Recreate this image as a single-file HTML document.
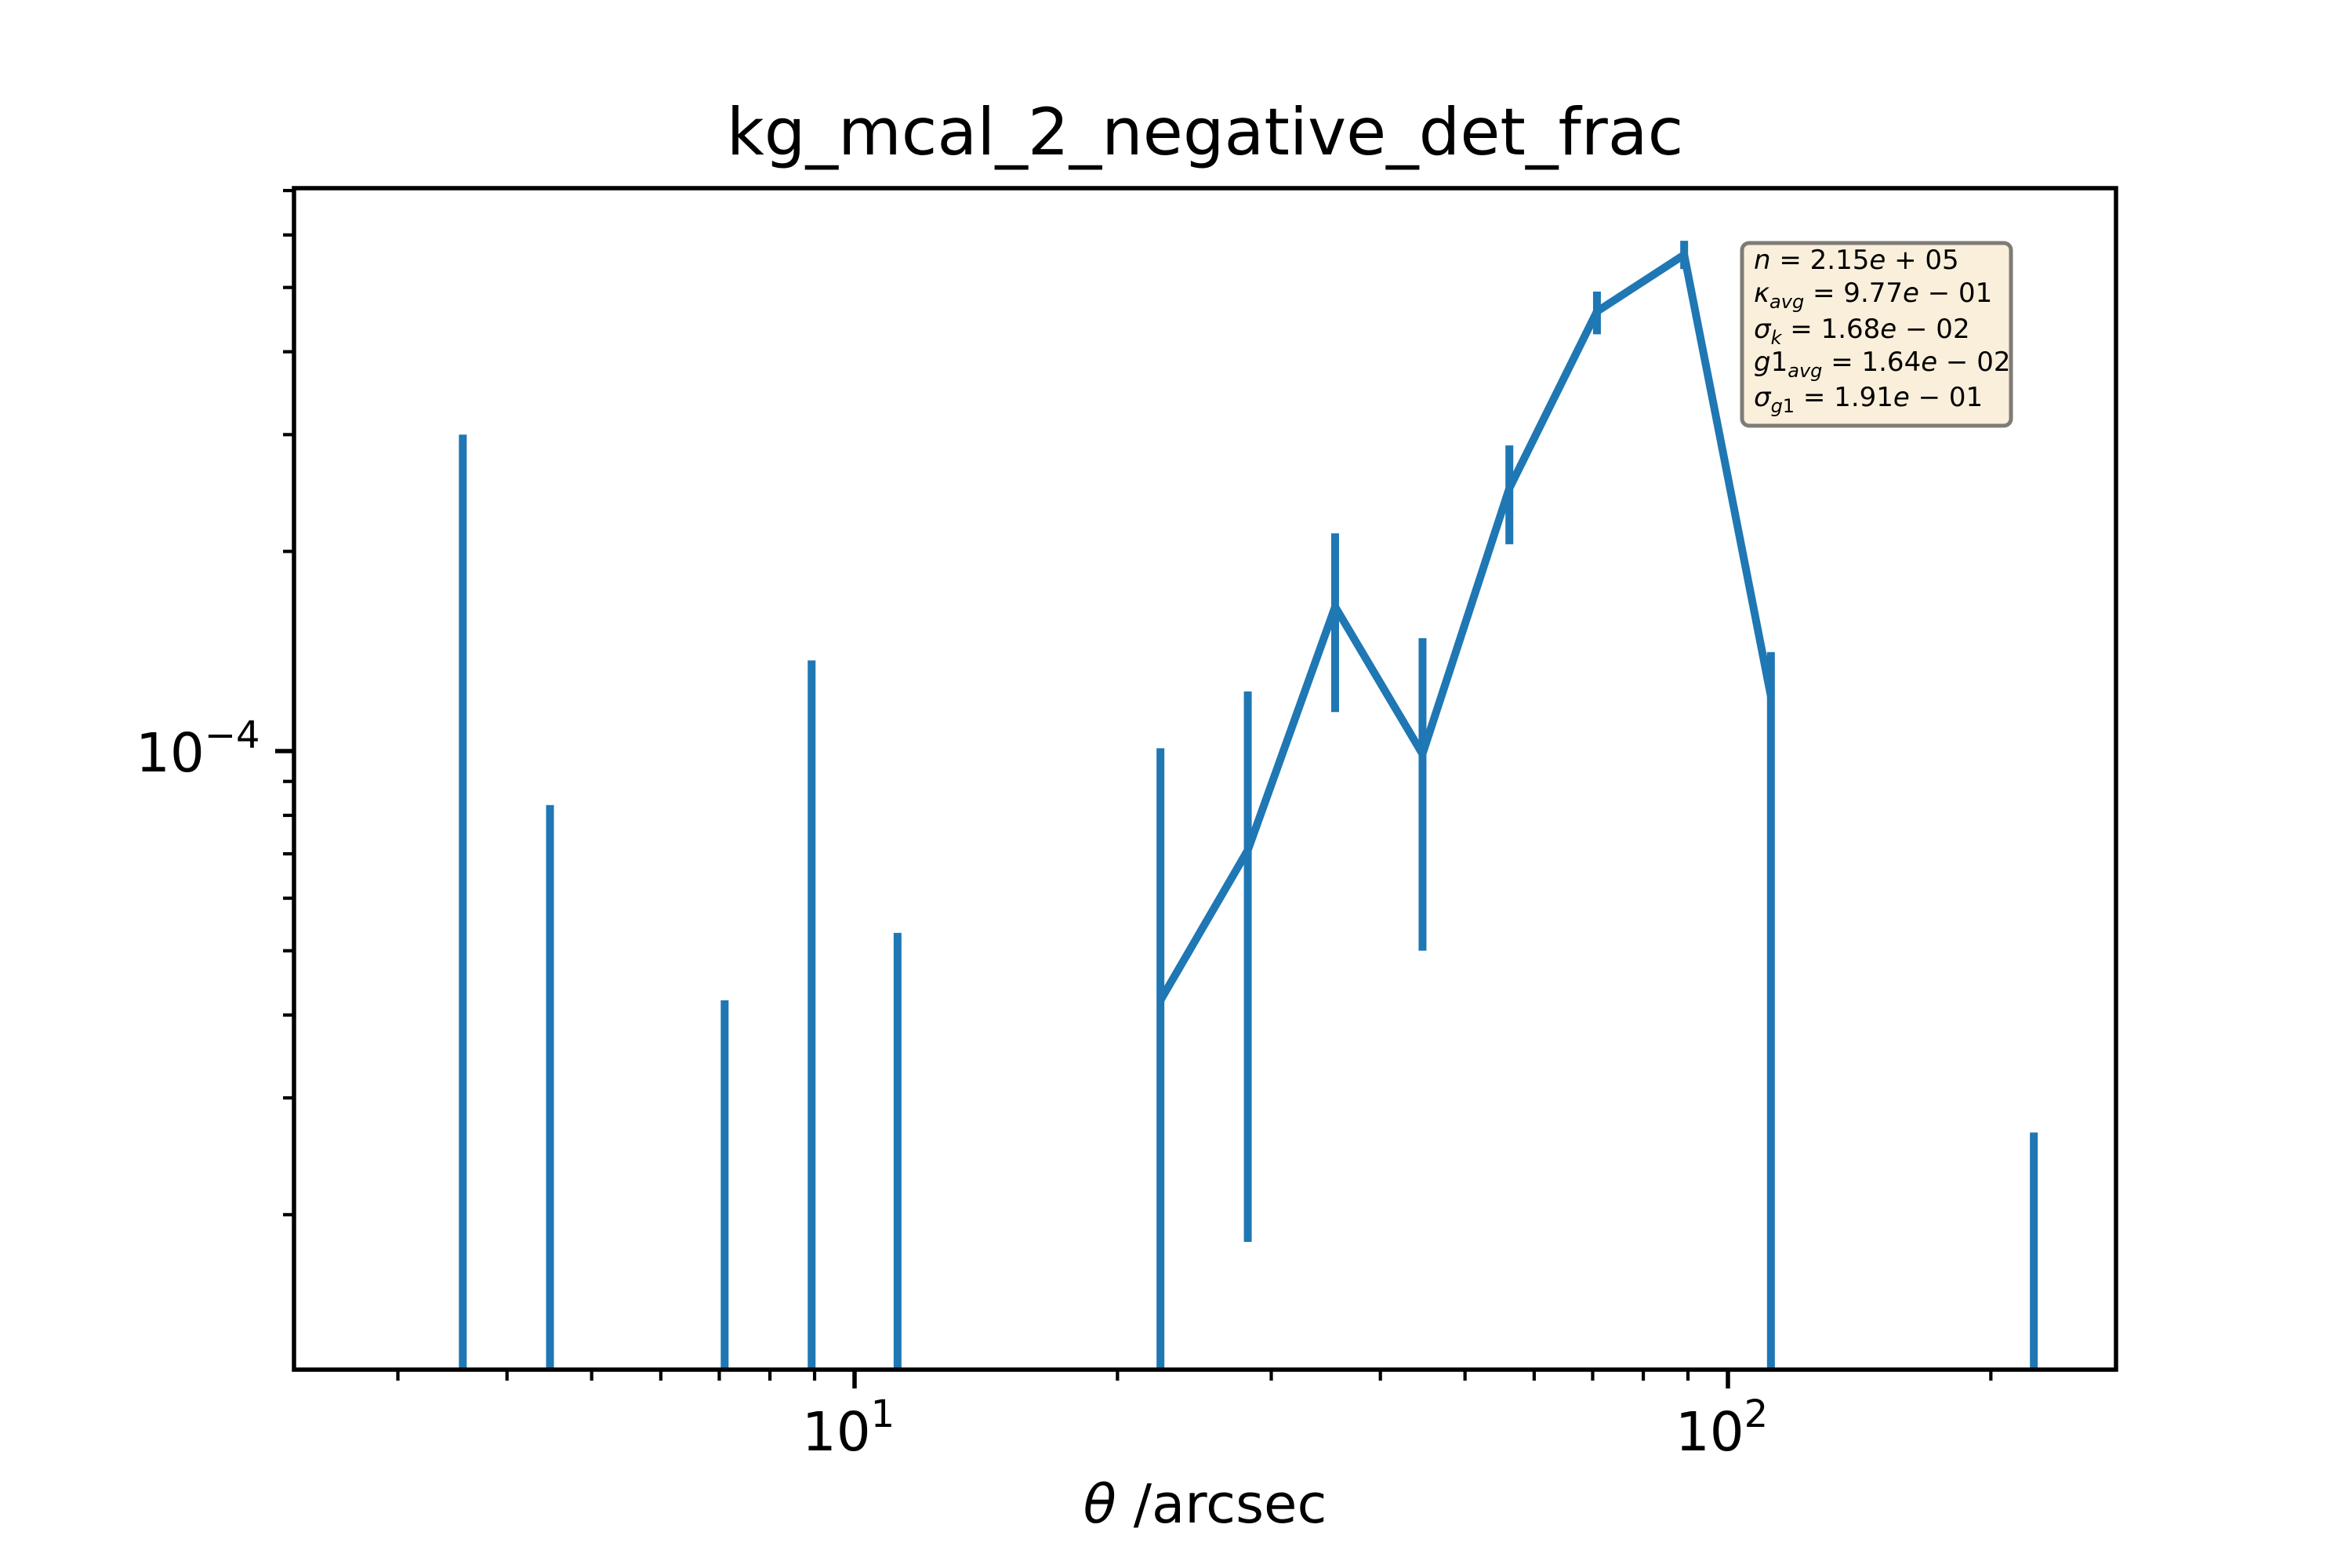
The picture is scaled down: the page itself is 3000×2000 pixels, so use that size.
<!DOCTYPE html>
<html><head><meta charset="utf-8"><style>
html,body{margin:0;padding:0;background:#fff;}
svg{display:block;font-family:"DejaVu Sans","Liberation Sans",sans-serif;}
</style></head><body>
<svg id="chart" width="3000" height="2000" viewBox="0 0 3000 2000">
<rect x="0" y="0" width="3000" height="2000" fill="#fff"/>
<text x="1537" y="197" font-size="83" text-anchor="middle">kg_mcal_2_negative_det_frac</text>
<g id="marks"></g>
<g id="axes"></g>
<text x="1537" y="1942" font-size="69" text-anchor="middle"><tspan font-style="italic">θ</tspan> /arcsec</text>
<g>
<rect x="2222" y="310" width="343" height="233" rx="9" fill="#faefdb" stroke="#7f7b76" stroke-width="5"/>
<g font-size="34" fill="#000">
<text x="2237" y="343"><tspan font-style="italic">n</tspan> = 2.15<tspan font-style="italic">e</tspan> + 05</text>
<text x="2237" y="385"><tspan font-style="italic">κ</tspan><tspan font-size="24" font-style="italic" dy="8">avg</tspan><tspan dy="-8"> = 9.77</tspan><tspan font-style="italic">e</tspan> − 01</text>
<text x="2237" y="431"><tspan font-style="italic">σ</tspan><tspan font-size="24" font-style="italic" dy="8">k</tspan><tspan dy="-8"> = 1.68</tspan><tspan font-style="italic">e</tspan> − 02</text>
<text x="2237" y="473"><tspan font-style="italic">g</tspan>1<tspan font-size="24" font-style="italic" dy="8">avg</tspan><tspan dy="-8"> = 1.64</tspan><tspan font-style="italic">e</tspan> − 02</text>
<text x="2237" y="518"><tspan font-style="italic">σ</tspan><tspan font-size="24" font-style="italic" dy="8">g</tspan><tspan font-size="24" dy="0">1</tspan><tspan dy="-8"> = 1.91</tspan><tspan font-style="italic">e</tspan> − 01</text>
</g>
</g>
</svg>
<script>
const theta = [3.56, 4.48, 7.10, 8.93, 11.2, 22.4, 28.2, 35.5, 44.7, 56.2, 70.8, 89.1, 112, 224];
const values = [null, null, null, null, null, 4.21e-5, 7.09e-5, 1.65e-4, 0.99e-4, 2.49e-4, 4.6e-4, 5.6e-4, 1.21e-4, null];
const errLow = [null, null, null, null, null, null, 1.82e-5, 1.145e-4, 5.0e-5, 2.05e-4, 4.25e-4, 5.33e-4, null, null];
const errHigh = [3.0e-4, 8.29e-5, 4.21e-5, 1.37e-4, 5.32e-5, 1.01e-4, 1.23e-4, 2.13e-4, 1.48e-4, 2.89e-4, 4.93e-4, 5.88e-4, 1.41e-4, 2.66e-5];
const xMajor = [10, 100];
const xMajorLabels = ["1", "2"];
const yMajor = [1e-4];
const yMajorLabels = ["−4"];

const NS = "http://www.w3.org/2000/svg";
const L = 375, R = 2699, T = 240, B = 1747;
const X0 = 1090, XD = 1114, Y0 = 958, YD = 846;
function sx(v){ return X0 + XD * (Math.log10(v) - 1); }
function sy(v){ return Y0 - YD * (Math.log10(v) + 4); }
function mk(tag, attrs, parent){
  const e = document.createElementNS(NS, tag);
  for (const k in attrs) e.setAttribute(k, attrs[k]);
  parent.appendChild(e);
  return e;
}
const marks = document.getElementById('marks');
const axes = document.getElementById('axes');
const clip = mk('clipPath', {id: 'clipA'}, marks);
mk('rect', {x: L, y: T, width: R - L, height: B - T}, clip);
const g = mk('g', {'clip-path': 'url(#clipA)'}, marks);

for (let i = 0; i < theta.length; i++) {
  const x = sx(theta[i]);
  const y1 = errLow[i] === null ? B + 20 : sy(errLow[i]);
  const y2 = sy(errHigh[i]);
  const ln = mk('line', {x1: x, x2: x, y1: y1, y2: y2, stroke: '#1f77b4', 'stroke-width': 10}, g);
  
  
}
let d = '';
let started = false;
for (let i = 0; i < theta.length; i++) {
  if (values[i] === null) { started = false; continue; }
  d += (started ? 'L' : 'M') + sx(theta[i]).toFixed(1) + ' ' + sy(values[i]).toFixed(1) + ' ';
  started = true;
}
const path = mk('path', {d: d, fill: 'none', stroke: '#1f77b4', 'stroke-width': 10, 'stroke-linejoin': 'round'}, g);



for (let dec = 1; dec <= 100; dec *= 10) {
  for (let m = 1; m <= 9; m++) {
    const v = m * dec;
    const x = sx(v);
    if (x < L || x > R) continue;
    const major = m === 1;
    const t = mk('line', {x1: x, x2: x, y1: B, y2: B + (major ? 24 : 14), stroke: '#000', 'stroke-width': major ? 5.5 : 4.2}, axes);
    
    
  }
}
xMajor.forEach((v, i) => {
  const t = mk('text', {x: sx(v) - 8, y: 1850, 'font-size': 69, 'text-anchor': 'middle'}, axes);
  
  
  t.textContent = '10';
  const s = mk('tspan', {'font-size': 48, dy: -30}, t);
  s.textContent = xMajorLabels[i];
});
for (let dec = 1e-5; dec <= 1e-4 * 1.01; dec *= 10) {
  for (let m = 1; m <= 9; m++) {
    const v = m * dec;
    const y = sy(v);
    if (y < T - 1 || y > B) continue;
    const major = m === 1;
    const t = mk('line', {x1: L, x2: L - (major ? 24 : 14), y1: y, y2: y, stroke: '#000', 'stroke-width': major ? 5.5 : 4.2}, axes);
    
    
  }
}
yMajor.forEach((v, i) => {
  const t = mk('text', {x: 173, y: sy(v) + 26, 'font-size': 69}, axes);
  
  
  t.textContent = '10';
  const s = mk('tspan', {'font-size': 48, dy: -30}, t);
  s.textContent = yMajorLabels[i];
});
const frame = mk('rect', {x: L, y: T, width: R - L, height: B - T, fill: 'none', stroke: '#000', 'stroke-width': 5.5}, axes);


</script>
</body></html>
